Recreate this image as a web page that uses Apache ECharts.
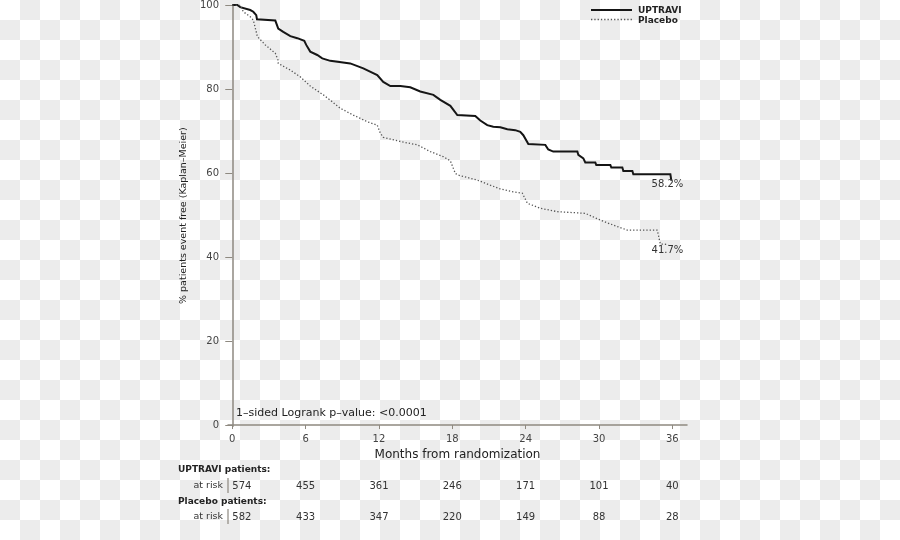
<!DOCTYPE html>
<html><head><meta charset="utf-8">
<script src="https://cdn.jsdelivr.net/npm/echarts@6/dist/echarts.min.js"></script>
<style>
html,body{margin:0;padding:0;}
body{width:900px;height:540px;background:repeating-conic-gradient(#ececec 0 25%, #ffffff 0 50%) 0 0/40px 40px;}
#c{width:900px;height:540px;}
</style></head><body><div id="c"></div>
<script>
// Traced vertices of the Kaplan-Meier curves (months, % event free)
const uptraviMonths = [0,0.41,0.65,1.47,1.72,1.96,2.02,3.52,3.6,3.76,4.17,4.75,5.32,5.89,6.05,6.38,6.95,7.36,8.02,9.65,10.72,11.86,12.35,12.93,13.75,14.56,15.38,16.45,17.02,17.84,18.41,19.88,20.29,20.86,21.35,21.93,22.5,23.15,23.56,23.81,24.22,25.61,25.85,26.26,28.23,28.31,28.72,28.88,29.7,29.78,30.93,31.01,31.91,31.99,32.73,32.81,35.84,35.92];
const uptraviSurv   = [100,100,99.5,98.8,98.4,97.6,96.6,96.3,96.0,94.4,93.6,92.6,92.1,91.5,90.5,88.9,88.1,87.3,86.7,86.1,84.9,83.3,81.7,80.7,80.7,80.4,79.4,78.6,77.4,76.0,73.8,73.6,72.5,71.4,71.0,70.9,70.4,70.2,69.8,69.0,66.9,66.7,65.6,65.1,65.1,64.3,63.5,62.5,62.5,61.9,61.9,61.3,61.3,60.5,60.5,59.7,59.7,58.2];
const placeboMonths = [0,0.65,0.9,1.47,1.72,1.96,2.05,2.7,3.52,3.74,3.76,4.75,5.56,6.38,7.45,8.16,8.84,9.9,11.05,11.86,12.11,12.35,13.75,15.14,16.2,17.26,17.84,18.25,18.49,20.05,21.11,21.93,22.99,23.73,24.14,25.2,26.59,28.88,30.1,31.17,32.32,34.77,35.02,35.67];
const placeboSurv   = [100,99.9,98.4,97.2,96.4,93.6,92.5,90.5,88.5,86.9,86.1,84.5,82.9,80.7,78.6,77.0,75.4,73.8,72.2,71.4,69.5,68.5,67.5,66.7,65.1,63.9,62.9,59.9,59.5,58.3,57.1,56.2,55.5,55.2,52.8,51.6,50.8,50.4,48.8,47.6,46.4,46.4,43.1,43.0];
const seriesNames = ['UPTRAVI','Placebo'];
const xTicks = [0,6,12,18,24,30,36];
const yTicks = [0,20,40,60,80,100];
const riskMonths = [0,6,12,18,24,30,36];
const uptraviAtRisk = [574,455,361,246,171,101,40];
const placeboAtRisk = [582,433,347,220,149,88,28];
const finalValues = [58.2, 41.7];
const finalMonth = 35.6;
const pValueText = '1\u2013sided Logrank p\u2013value: <0.0001';

const FONT = 'DejaVu Sans';
const AXC = '#8e8980';
const C_UP = '#151515', C_PL = '#555';
const DOT = [1.3, 2];
const chart = echarts.init(document.getElementById('c'), null, {renderer:'canvas'});
const zip = (a,b)=>a.map((v,i)=>[v,b[i]]);

chart.setOption({
  animation:false,
  grid:{left:228, right:213, top:5, height:421.3},
  xAxis:{type:'value', min:-0.35, max:37.2,
    name:'Months from randomization', nameLocation:'middle', nameGap:23,
    nameTextStyle:{fontFamily:FONT, fontSize:12, color:'#222'},
    axisLine:{show:true, lineStyle:{color:AXC, width:1.5}},
    axisTick:{show:true, length:4, customValues:xTicks, lineStyle:{color:AXC, width:1}},
    axisLabel:{customValues:xTicks, fontFamily:FONT, fontSize:10, color:'#444', margin:8},
    splitLine:{show:false}},
  yAxis:{type:'value', min:-0.3, max:100,
    name:'% patients event free (Kaplan\u2013Meier)', nameLocation:'middle', nameGap:39,
    nameTextStyle:{fontFamily:FONT, fontSize:9.5, color:'#222'},
    axisLine:{show:true, lineStyle:{color:AXC, width:1.5}},
    axisTick:{show:true, length:7, customValues:yTicks, lineStyle:{color:AXC, width:1}},
    axisLabel:{customValues:yTicks, fontFamily:FONT, fontSize:10, color:'#444', margin:9},
    splitLine:{show:false}},
  series:[
    {name:seriesNames[0], type:'line', symbol:'none', data:zip(uptraviMonths, uptraviSurv),
     lineStyle:{color:C_UP, width:2, join:'miter'}, itemStyle:{color:C_UP},
     markPoint:{symbol:'circle', symbolSize:0, silent:true,
       data:[{coord:[finalMonth, finalValues[0]]}],
       label:{show:true, position:'inside', offset:[0,4], formatter:finalValues[0].toFixed(1)+'%', fontFamily:FONT, fontSize:10, color:'#333'}}},
    {name:seriesNames[1], type:'line', symbol:'none', data:zip(placeboMonths, placeboSurv),
     lineStyle:{color:C_PL, width:1.3, type:DOT}, itemStyle:{color:C_PL},
     markPoint:{symbol:'circle', symbolSize:0, silent:true,
       data:[{coord:[finalMonth, finalValues[1]]}],
       label:{show:true, position:'inside', offset:[0,1], formatter:finalValues[1].toFixed(1)+'%', fontFamily:FONT, fontSize:10, color:'#333'}}}
  ]
});

const g = [];
const xp = m => chart.convertToPixel({xAxisIndex:0}, m);
const yp = v => chart.convertToPixel({yAxisIndex:0}, v);
// legend
g.push({type:'line', shape:{x1:591, y1:10, x2:632, y2:10}, style:{stroke:C_UP, lineWidth:2}});
g.push({type:'line', shape:{x1:591, y1:19.5, x2:632, y2:19.5}, style:{stroke:C_PL, lineWidth:1.3, lineDash:DOT}});
g.push({type:'text', x:638, y:11, style:{text:seriesNames[0], font:'bold 9px "DejaVu Sans"', fill:'#222', verticalAlign:'middle'}});
g.push({type:'text', x:638, y:21, style:{text:seriesNames[1], font:'bold 9px "DejaVu Sans"', fill:'#222', verticalAlign:'middle'}});
// annotation
g.push({type:'text', left:236, top:yp(0)-17, style:{text:pValueText, font:'11px "DejaVu Sans"', fill:'#222'}});
// at-risk table
function row(title, counts, yTitle, yRow){
  g.push({type:'text', x:178, y:yTitle, style:{text:title, font:'bold 9px "DejaVu Sans"', fill:'#222', verticalAlign:'middle'}});
  g.push({type:'text', x:223, y:yRow, style:{text:'at risk', font:'9.5px "DejaVu Sans"', fill:'#333', align:'right', verticalAlign:'middle'}});
  g.push({type:'line', shape:{x1:228, y1:yRow-8, x2:228, y2:yRow+7}, style:{stroke:AXC, lineWidth:1.2}});
  counts.forEach((c,i)=>{
    g.push({type:'text', x:xp(riskMonths[i]), y:yRow, style:{text:String(c), font:'10px "DejaVu Sans"', fill:'#333', align: i===0?'left':'center', verticalAlign:'middle'}});
  });
}
row('UPTRAVI patients:', uptraviAtRisk, 470, 486);
row('Placebo patients:', placeboAtRisk, 501.5, 517);
chart.setOption({graphic:g});
</script></body></html>
